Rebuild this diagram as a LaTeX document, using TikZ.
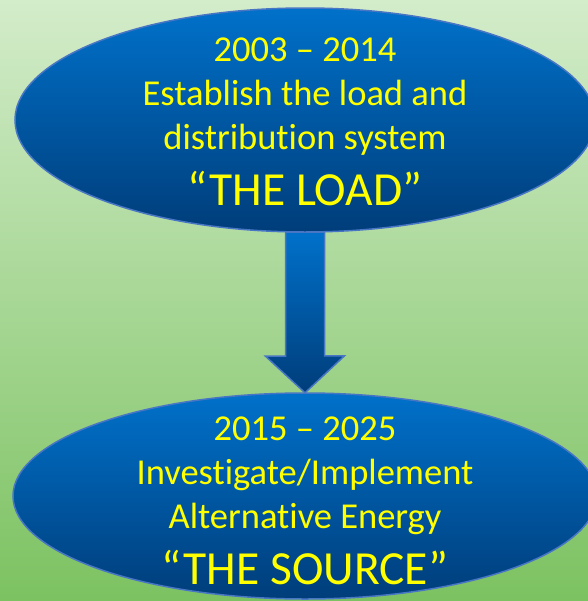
\documentclass[tikz,border=0pt]{standalone}
\usepackage{fontspec}
\setmainfont{Carlito}[Ligatures=NoCommon]
\usetikzlibrary{shapes,calc}
\definecolor{bgtop}{RGB}{211,236,202}
\definecolor{bgbottom}{RGB}{124,194,97}
\definecolor{ovaltop}{RGB}{0,113,202}
\definecolor{ovalbottom}{RGB}{0,61,122}
\definecolor{ovalline}{RGB}{72,118,196}
\definecolor{ovaltext}{RGB}{255,255,0}
\tikzset{
  oval/.style={ellipse,draw=ovalline,line width=1.5bp,top color=ovaltop,bottom color=ovalbottom,inner sep=0pt},
  ovaltxt/.style={align=center,text=ovaltext,inner sep=0pt,font=\fontsize{36.5bp}{44bp}\selectfont},
  blockarrow/.style={draw=ovalline,line width=1.5bp,top color=ovaltop,bottom color=ovalbottom,line join=miter}
}
\newcommand{\bigquote}[1]{{\fontsize{47.5bp}{56bp}\selectfont #1}}
\begin{document}
\begin{tikzpicture}

\useasboundingbox (0bp,0bp) rectangle (588bp,-601bp);
\shade[top color=bgtop,bottom color=bgbottom] (0bp,0bp) rectangle (588bp,-601bp);

\coordinate (loadc) at (305bp,-120bp);
\coordinate (sourcec) at (305bp,-496bp);
\path (loadc) node (load) [ellipse,minimum width=580bp,minimum height=224bp,inner sep=0pt] {};
\path (sourcec) node (source) [ellipse,minimum width=584bp,minimum height=206bp,inner sep=0pt] {};

\draw [blockarrow] ($(load.south)+(-19.5bp,0bp)$) -- ++(0bp,-124bp) -- ++(-20bp,0bp) -- (source.north)
  -- ++(39.5bp,37bp) -- ++(-20bp,0bp) -- ($(load.south)+(19.5bp,0bp)$) -- cycle;

\node (loadoval) at (loadc)[oval,minimum width=580bp,minimum height=224bp] {};
\node (sourceoval) at (sourcec)[oval,minimum width=584bp,minimum height=206bp] {};

\node (loadtext) at ([yshift=-2bp]loadc)[ovaltxt] {2003 -- 2014\\Establish the load and\\distribution system\\[12bp]\bigquote{“THE LOAD”}};
\node (sourcetext) at ([yshift=-5bp]sourcec)[ovaltxt] {2015 -- 2025\\Investigate/Implement\\Alternative Energy\\[12bp]\bigquote{“THE SOURCE”}};
\end{tikzpicture}
\end{document}
